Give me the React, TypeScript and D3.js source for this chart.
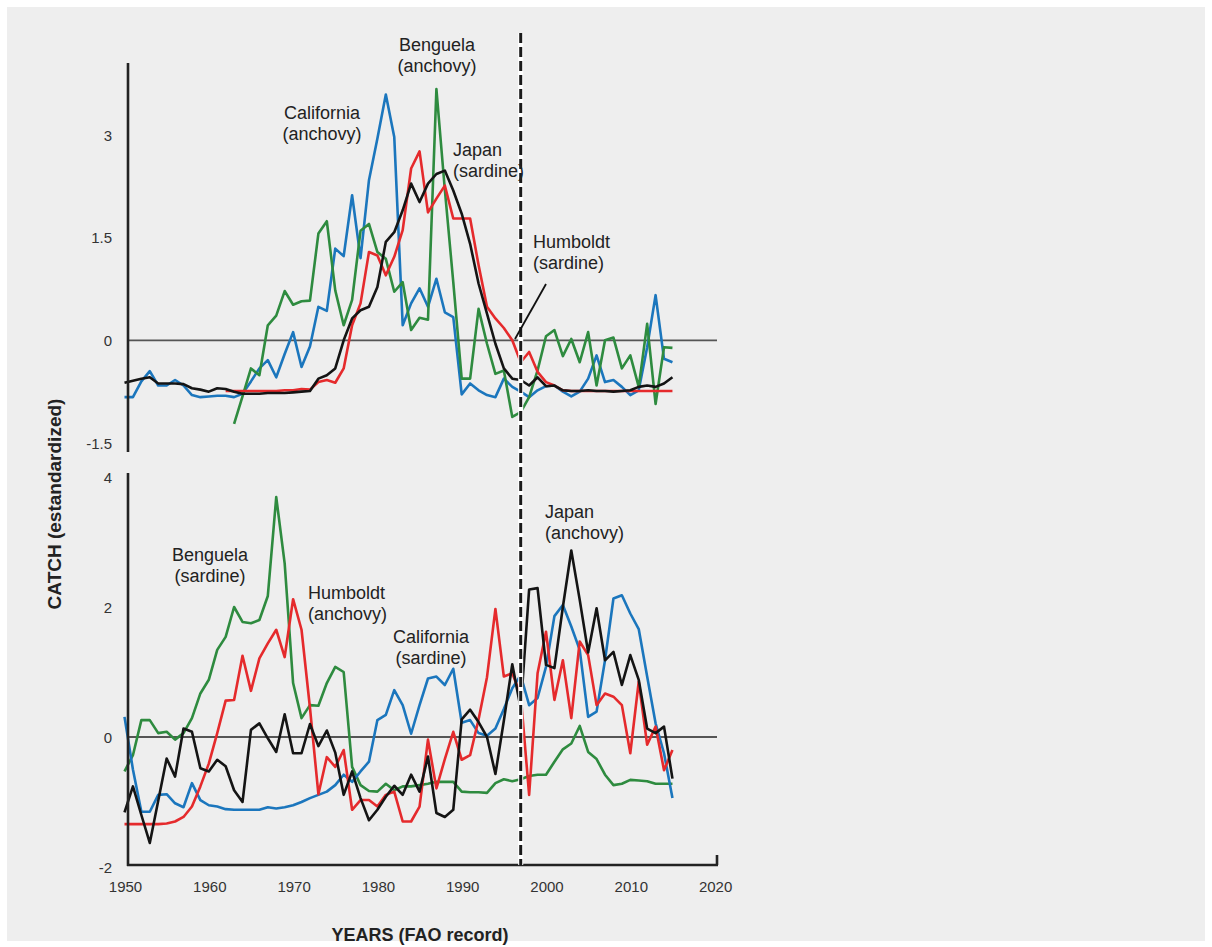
import { line, scaleLinear } from "d3";

const W = 1212;
const H = 947;

// years on the shared x axis
const xTicks = [1950, 1960, 1970, 1980, 1990, 2000, 2010, 2020];
const topTicks = [-1.5, 0, 1.5, 3];
const bottomTicks = [-2, 0, 2, 4];
const regimeShiftYear = 1997;

// top panel: anchovy/sardine catches, standardized
const californiaAnchovyStart = 1950;
const californiaAnchovy = [
  -0.83, -0.83, -0.6, -0.45, -0.66, -0.66, -0.58, -0.66, -0.8, -0.83,
  -0.82, -0.81, -0.81, -0.83, -0.78, -0.6, -0.41, -0.29, -0.54, -0.2,
  0.12, -0.39, -0.09, 0.49, 0.43, 1.34, 1.23, 2.12, 1.2, 2.34,
  2.95, 3.59, 2.97, 0.22, 0.54, 0.76, 0.49, 0.9, 0.41, 0.34,
  -0.79, -0.63, -0.73, -0.8, -0.83, -0.56, -0.68, -0.75, -0.83, -0.73,
  -0.67, -0.66, -0.75, -0.82, -0.75, -0.56, -0.22, -0.61, -0.58, -0.68,
  -0.8, -0.73, -0.1, 0.66, -0.27, -0.32,
];

const benguelaAnchovyStart = 1963;
const benguelaAnchovy = [
  -1.22, -0.82, -0.41, -0.51, 0.22, 0.36, 0.72,
  0.52, 0.57, 0.58, 1.56, 1.74, 0.73, 0.22, 0.59, 1.6, 1.7,
  1.29, 1.19, 0.71, 0.85, 0.15, 0.33, 0.3, 3.67, 2.2, 0.85,
  -0.56, -0.56, 0.46, -0.05, -0.49, -0.44, -1.12, -1.05, -0.83, -0.44,
  0.06, 0.15, -0.23, 0.02, -0.32, 0.12, -0.66, 0.0, 0.04, -0.41,
  -0.22, -0.68, 0.24, -0.93, -0.1, -0.11,
];

const humboldtSardineStart = 1962;
const humboldtSardine = [
  -0.74, -0.74, -0.74, -0.74, -0.74, -0.74, -0.74, -0.73,
  -0.73, -0.71, -0.72, -0.61, -0.58, -0.62, -0.41, 0.22, 0.54, 1.29,
  1.24, 0.95, 1.22, 1.61, 2.51, 2.76, 1.87, 2.07, 2.26, 1.78,
  1.78, 1.78, 1.1, 0.49, 0.32, 0.18, 0.0, -0.32, -0.17, -0.46,
  -0.61, -0.66, -0.73, -0.74, -0.74, -0.74, -0.74, -0.74, -0.74, -0.74,
  -0.74, -0.74, -0.74, -0.74, -0.74, -0.74,
];

const japanSardineStart = 1950;
const japanSardine = [
  -0.62, -0.59, -0.56, -0.54, -0.63, -0.63, -0.63, -0.64, -0.7, -0.72,
  -0.75, -0.7, -0.71, -0.75, -0.78, -0.78, -0.78, -0.77, -0.77, -0.77,
  -0.76, -0.75, -0.74, -0.56, -0.51, -0.41, 0.0, 0.32, 0.44, 0.49,
  0.78, 1.44, 1.58, 1.9, 2.29, 2.02, 2.29, 2.43, 2.48, 2.19,
  1.85, 1.41, 0.83, 0.39, -0.05, -0.41, -0.56, -0.58, -0.66, -0.54,
  -0.67, -0.66, -0.73, -0.74, -0.74, -0.73, -0.74, -0.74, -0.75, -0.74,
  -0.73, -0.68, -0.66, -0.68, -0.63, -0.54,
];

// bottom panel
const californiaSardineStart = 1950;
const californiaSardine = [
  0.31, -0.5, -1.15, -1.15, -0.89, -0.88, -1.02, -1.08, -0.71, -0.97,
  -1.05, -1.07, -1.11, -1.12, -1.12, -1.12, -1.12, -1.08, -1.1, -1.08,
  -1.05, -1.0, -0.94, -0.89, -0.84, -0.74, -0.58, -0.69, -0.53, -0.38,
  0.26, 0.34, 0.72, 0.49, 0.05, 0.49, 0.9, 0.93, 0.8, 1.05,
  0.22, 0.26, 0.06, 0.02, 0.13, 0.43, 0.75, 0.95, 0.49, 0.6,
  1.08, 1.86, 2.03, 1.7, 1.34, 0.31, 0.39, 1.18, 2.13, 2.18,
  1.9, 1.66, 0.93, 0.21, -0.25, -0.94,
];

const benguelaSardineStart = 1950;
const benguelaSardine = [
  -0.53, -0.28, 0.26, 0.26, 0.06, 0.08, -0.04, 0.06, 0.29, 0.67,
  0.88, 1.34, 1.54, 2.0, 1.77, 1.75, 1.8, 2.17, 3.69, 2.67,
  0.83, 0.29, 0.49, 0.48, 0.83, 1.08, 1.0, -0.46, -0.74, -0.83,
  -0.84, -0.72, -0.82, -0.76, -0.76, -0.74, -0.72, -0.69, -0.69, -0.69,
  -0.84, -0.85, -0.85, -0.86, -0.71, -0.65, -0.68, -0.65, -0.6, -0.58,
  -0.58, -0.38, -0.19, -0.1, 0.17, -0.23, -0.34, -0.58, -0.74, -0.72,
  -0.66, -0.67, -0.68, -0.72, -0.72, -0.72,
];

const humboldtAnchovyStart = 1950;
const humboldtAnchovy = [
  -1.34, -1.34, -1.34, -1.34, -1.34, -1.33, -1.3, -1.23, -1.07, -0.76,
  -0.41, 0.06, 0.56, 0.57, 1.25, 0.71, 1.21, 1.44, 1.65, 1.23,
  2.12, 1.65, 0.45, -0.88, -0.31, -0.46, -0.2, -1.12, -0.97, -0.97,
  -1.07, -0.89, -0.84, -1.3, -1.3, -1.07, -0.04, -0.79, -0.34, 0.08,
  -0.35, -0.28, 0.27, 0.92, 1.97, 0.93, 0.98, 0.65, -0.89, 0.98,
  1.62, 0.57, 1.18, 0.29, 1.47, 1.26, 0.49, 0.67, 0.62, 0.49,
  -0.25, 0.85, -0.12, 0.16, -0.51, -0.2,
];

const japanAnchovyStart = 1950;
const japanAnchovy = [
  -1.16, -0.76, -1.2, -1.63, -0.98, -0.33, -0.61, 0.13, 0.08, -0.48,
  -0.53, -0.35, -0.45, -0.82, -1.0, 0.11, 0.21, -0.02, -0.23, 0.35,
  -0.25, -0.25, 0.2, -0.14, 0.1, -0.24, -0.89, -0.53, -0.94, -1.28,
  -1.12, -0.92, -0.75, -0.89, -0.58, -0.84, -0.3, -1.17, -1.23, -1.12,
  0.27, 0.42, 0.23, 0.0, -0.57, 0.25, 1.12, 0.44, 2.27, 2.29,
  1.11, 1.06, 2.0, 2.87, 2.11, 1.3, 1.98, 1.18, 1.31, 0.8,
  1.26, 0.88, 0.13, 0.06, 0.16, -0.64,
];

const BLUE = "#1b76bd";
const RED = "#e52a2c";
const GREEN = "#2e8b3f";
const BLACK = "#141414";
const FONT = "'Liberation Sans', Arial, Helvetica, sans-serif";

const x = scaleLinear().domain([1950, 2020]).range([124.5, 714.6]);
const yTop = scaleLinear().domain([-1.5, 3]).range([443, 135]);
const yBottom = scaleLinear().domain([-2, 4]).range([867, 477]);

const AXIS_X = 128;
const AXIS_END = 717;

function toPoints(start: number, values: number[]) {
  return values.map((v, i) => [start + i, v] as [number, number]);
}

function Series({ start, values, y, color }: any) {
  const gen = line<[number, number]>()
    .x((d) => x(d[0]))
    .y((d) => y(d[1]));
  return (
    <path
      d={gen(toPoints(start, values)) ?? undefined}
      fill="none"
      stroke={color}
      strokeWidth={2.6}
      strokeLinejoin="round"
    />
  );
}

function Label({ lines, x0, y0, anchor = "middle" }: any) {
  return (
    <text
      x={x0}
      y={y0}
      textAnchor={anchor}
      fontFamily={FONT}
      fontSize={18}
      fill="#222"
    >
      {lines.map((t: string, i: number) => (
        <tspan key={i} x={x0} dy={i === 0 ? 0 : 21}>
          {t}
        </tspan>
      ))}
    </text>
  );
}

export default function App() {
  const dashX = x(regimeShiftYear);
  return (
    <svg
      width={W}
      height={H}
      style={{ position: "absolute", left: 0, top: 0, background: "#fff" }}
    >
      <rect x={7} y={7} width={1198} height={934} fill="#eeeeee" />

      {/* top panel */}
      <line x1={AXIS_X} x2={AXIS_END} y1={yTop(0)} y2={yTop(0)} stroke="#555" strokeWidth={1.8} />
      <Series start={californiaAnchovyStart} values={californiaAnchovy} y={yTop} color={BLUE} />
      <Series start={benguelaAnchovyStart} values={benguelaAnchovy} y={yTop} color={GREEN} />
      <Series start={humboldtSardineStart} values={humboldtSardine} y={yTop} color={RED} />
      <Series start={japanSardineStart} values={japanSardine} y={yTop} color={BLACK} />
      <line x1={AXIS_X} x2={AXIS_X} y1={63} y2={452} stroke="#222" strokeWidth={2.6} />
      {topTicks.map((t) => (
        <text
          key={t}
          x={112}
          y={yTop(t)}
          textAnchor="end"
          dominantBaseline="central"
          fontFamily={FONT}
          fontSize={15}
          fill="#333"
        >
          {t}
        </text>
      ))}

      {/* bottom panel */}
      <line x1={AXIS_X} x2={AXIS_END} y1={yBottom(0)} y2={yBottom(0)} stroke="#555" strokeWidth={1.8} />
      <Series start={benguelaSardineStart} values={benguelaSardine} y={yBottom} color={GREEN} />
      <Series start={californiaSardineStart} values={californiaSardine} y={yBottom} color={BLUE} />
      <Series start={humboldtAnchovyStart} values={humboldtAnchovy} y={yBottom} color={RED} />
      <Series start={japanAnchovyStart} values={japanAnchovy} y={yBottom} color={BLACK} />
      <line x1={AXIS_X} x2={AXIS_X} y1={473} y2={866} stroke="#222" strokeWidth={2.6} />
      <line x1={AXIS_X - 1} x2={AXIS_END + 1} y1={865} y2={865} stroke="#222" strokeWidth={2.6} />
      <line x1={AXIS_END} x2={AXIS_END} y1={855} y2={865} stroke="#222" strokeWidth={2.6} />
      {bottomTicks.map((t) => (
        <text
          key={t}
          x={112}
          y={yBottom(t)}
          textAnchor="end"
          dominantBaseline="central"
          fontFamily={FONT}
          fontSize={15}
          fill="#333"
        >
          {t}
        </text>
      ))}
      {xTicks.map((t) => (
        <text
          key={t}
          x={x(t) + 1}
          y={886}
          textAnchor="middle"
          dominantBaseline="central"
          fontFamily={FONT}
          fontSize={15}
          fill="#333"
        >
          {t}
        </text>
      ))}

      {/* regime shift marker */}
      <line x1={dashX} x2={dashX} y1={33} y2={865} stroke="#fff" strokeWidth={5} />
      <line
        x1={dashX}
        x2={dashX}
        y1={33}
        y2={865}
        stroke="#1a1a1a"
        strokeWidth={3}
        strokeDasharray="10 4"
      />

      {/* annotations */}
      <Label lines={["California", "(anchovy)"]} x0={322} y0={119} />
      <Label lines={["Benguela", "(anchovy)"]} x0={437} y0={51} />
      <Label lines={["Japan", "(sardine)"]} x0={453} y0={156} anchor="start" />
      <Label lines={["Humboldt", "(sardine)"]} x0={533} y0={248} anchor="start" />
      <line x1={546} y1={284} x2={515} y2={339} stroke="#111" strokeWidth={1.8} />
      <Label lines={["Benguela", "(sardine)"]} x0={210} y0={561} />
      <Label lines={["Humboldt", "(anchovy)"]} x0={308} y0={599} anchor="start" />
      <Label lines={["California", "(sardine)"]} x0={431} y0={643} />
      <Label lines={["Japan", "(anchovy)"]} x0={545} y0={518} anchor="start" />

      {/* axis titles */}
      <text
        x={420}
        y={935}
        textAnchor="middle"
        dominantBaseline="central"
        fontFamily={FONT}
        fontSize={18}
        fontWeight="bold"
        fill="#222"
      >
        YEARS (FAO record)
      </text>
      <text
        transform="translate(54, 504) rotate(-90)"
        textAnchor="middle"
        dominantBaseline="central"
        fontFamily={FONT}
        fontSize={19}
        fontWeight="bold"
        fill="#222"
      >
        CATCH (estandardized)
      </text>
    </svg>
  );
}
